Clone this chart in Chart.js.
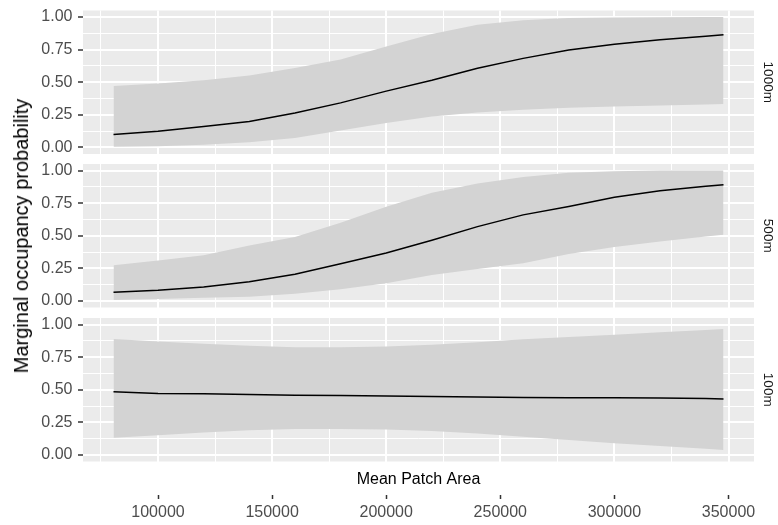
<!DOCTYPE html>
<html>
<head>
<meta charset="utf-8">
<script src="https://cdn.jsdelivr.net/npm/chart.js@4.4.0/dist/chart.umd.min.js"></script>
<style>
  html, body { margin: 0; padding: 0; background: #ffffff; width: 778px; height: 525px; overflow: hidden; position: relative; }
  canvas { position: absolute; left: 0; top: -30px; }
  #ytitle {
    position: absolute; left: 20.7px; top: 236px;
    transform: translate(-50%, -50%) rotate(-90deg);
    font-family: 'Liberation Sans', Arial, sans-serif; font-size: 20px; color: #000000;
    white-space: nowrap; line-height: 1;
  }
</style>
</head>
<body>
<canvas id="facet1000" width="778" height="585"></canvas>
<canvas id="facet500" width="778" height="585"></canvas>
<canvas id="facet100" width="778" height="585"></canvas>
<div id="ytitle">Marginal occupancy probability</div>
<script>
// Mean patch area at which the fitted curves are evaluated
const patchArea = [80500, 100000, 120000, 140000, 160000, 180000, 200000, 220000, 240000, 260000, 280000, 300000, 320000, 340000, 347800];

// 1000m buffer: fitted marginal occupancy and its interval
const fit1000   = [0.100, 0.125, 0.160, 0.200, 0.265, 0.342, 0.432, 0.515, 0.608, 0.683, 0.748, 0.792, 0.826, 0.853, 0.864];
const lower1000 = [0.005, 0.010, 0.020, 0.040, 0.072, 0.130, 0.188, 0.238, 0.268, 0.290, 0.305, 0.315, 0.322, 0.330, 0.333];
const upper1000 = [0.472, 0.490, 0.515, 0.552, 0.610, 0.675, 0.775, 0.870, 0.940, 0.975, 0.992, 0.997, 0.999, 1.000, 1.000];

// 500m buffer
const fit500   = [0.066, 0.082, 0.108, 0.148, 0.205, 0.285, 0.368, 0.465, 0.570, 0.660, 0.725, 0.795, 0.845, 0.880, 0.890];
const lower500 = [0.008, 0.015, 0.025, 0.033, 0.055, 0.090, 0.135, 0.200, 0.245, 0.290, 0.360, 0.414, 0.455, 0.495, 0.508];
const upper500 = [0.274, 0.310, 0.350, 0.425, 0.490, 0.600, 0.722, 0.830, 0.900, 0.950, 0.982, 0.995, 1.000, 1.000, 1.000];

// 100m buffer
const fit100   = [0.484, 0.471, 0.470, 0.463, 0.458, 0.455, 0.452, 0.449, 0.445, 0.440, 0.438, 0.438, 0.436, 0.432, 0.430];
const lower100 = [0.133, 0.152, 0.172, 0.190, 0.199, 0.200, 0.195, 0.183, 0.165, 0.140, 0.115, 0.090, 0.068, 0.047, 0.038];
const upper100 = [0.889, 0.870, 0.853, 0.837, 0.826, 0.825, 0.832, 0.845, 0.865, 0.888, 0.905, 0.922, 0.940, 0.958, 0.965];

// Axis breaks (major and minor grid)
const yBreaks = [0, 0.125, 0.25, 0.375, 0.5, 0.625, 0.75, 0.875, 1];
const xBreaks = [75000, 100000, 125000, 150000, 175000, 200000, 225000, 250000, 275000, 300000, 325000, 350000];

const facetNames = ['1000m', '500m', '100m'];
const xTitle = 'Mean Patch Area';

const FONT = "'Liberation Sans', Arial, sans-serif";
Chart.defaults.font.family = FONT;

// 5% expansion of the x range on both sides
const xSpan = patchArea[patchArea.length - 1] - patchArea[0];
const X_MIN = patchArea[0] - 0.05 * xSpan;
const X_MAX = patchArea[patchArea.length - 1] + 0.05 * xSpan;

const isMajorX = v => v % 50000 === 0;
const isMajorY = v => Math.abs(v * 4 - Math.round(v * 4)) < 1e-9;

const panelBackground = {
  id: 'panelBackground',
  beforeDraw(chart) {
    const { ctx, chartArea: a } = chart;
    ctx.save();
    ctx.fillStyle = '#EBEBEB';
    ctx.fillRect(a.left, a.top, a.right - a.left, a.bottom - a.top);
    ctx.restore();
  }
};

const toPoints = ys => patchArea.map((x, i) => ({ x: x, y: ys[i] }));

function makeFacet(canvasId, name, fit, lower, upper, panelTop, panelBottom, withXAxis) {
  const canvasTop = -30, canvasBottom = 555;
  const xAxisH = withXAxis ? 33 : 0;
  const labelAxisH = withXAxis ? 30 : 0;

  const scales = {
    x: {
      type: 'linear', axis: 'x', position: 'bottom', weight: 0,
      min: X_MIN, max: X_MAX,
      afterBuildTicks: s => { s.ticks = xBreaks.map(v => ({ value: v })); },
      afterFit: s => { s.height = xAxisH; },
      border: { display: false },
      grid: {
        color: '#FFFFFF',
        lineWidth: c => (c.tick && isMajorX(c.tick.value)) ? 2 : 1,
        drawTicks: false
      },
      ticks: { display: false },
      title: withXAxis
        ? { display: true, text: xTitle, color: '#000000', font: { family: FONT, size: 16 }, padding: { top: 0, bottom: 5 } }
        : { display: false }
    },
    y: {
      type: 'linear', axis: 'y', position: 'left',
      min: -0.05, max: 1.05,
      afterBuildTicks: s => { s.ticks = yBreaks.map(v => ({ value: v })); },
      afterFit: s => { s.width = 83; },
      border: { display: false },
      grid: {
        color: '#FFFFFF',
        lineWidth: c => (c.tick && isMajorY(c.tick.value)) ? 2 : 1,
        drawTicks: true, tickLength: 5, tickWidth: 1.5,
        tickColor: c => (c.tick && isMajorY(c.tick.value)) ? '#333333' : 'rgba(0,0,0,0)'
      },
      ticks: {
        autoSkip: false, padding: 5.5, color: '#4D4D4D', font: { family: FONT, size: 16 },
        callback: v => isMajorY(v) ? v.toFixed(2) : ''
      }
    },
    strip: {
      type: 'linear', axis: 'y', position: 'right',
      afterFit: s => { s.width = 24; },
      border: { display: false },
      grid: { display: false },
      ticks: { display: false },
      title: { display: true, text: name, color: '#1A1A1A', font: { family: FONT, size: 13.5 }, padding: { top: 2.5, bottom: 0 } }
    }
  };

  if (withXAxis) {
    scales.xLabels = {
      type: 'linear', axis: 'x', position: 'bottom', weight: 1,
      min: X_MIN, max: X_MAX,
      afterBuildTicks: s => { s.ticks = xBreaks.map(v => ({ value: v })); },
      afterFit: s => { s.height = labelAxisH; },
      border: { display: false },
      grid: {
        drawOnChartArea: false, drawTicks: true, tickLength: 4.5, tickWidth: 1.5,
        tickColor: c => (c.tick && isMajorX(c.tick.value)) ? '#333333' : 'rgba(0,0,0,0)'
      },
      ticks: {
        autoSkip: false, maxRotation: 0, padding: 4.4, color: '#4D4D4D', font: { family: FONT, size: 16 },
        callback: v => isMajorX(v) ? String(v) : ''
      }
    };
  }

  // The fitted curve comes first so it is drawn above the interval band
  return new Chart(document.getElementById(canvasId), {
    type: 'line',
    data: {
      datasets: [
        {
          label: 'fit', data: toPoints(fit), xAxisID: 'x', yAxisID: 'y',
          borderColor: '#000000', borderWidth: 1.5, pointRadius: 0, fill: false, tension: 0
        },
        {
          label: 'lower', data: toPoints(lower), xAxisID: 'x', yAxisID: 'y',
          borderColor: 'rgba(0,0,0,0)', borderWidth: 0, pointRadius: 0, fill: false
        },
        {
          label: 'upper', data: toPoints(upper), xAxisID: 'x', yAxisID: 'y',
          borderColor: 'rgba(0,0,0,0)', borderWidth: 0, pointRadius: 0,
          fill: '-1', backgroundColor: '#D3D3D3'
        }
      ]
    },
    options: {
      responsive: false,
      animation: false,
      devicePixelRatio: 1,
      events: [],
      layout: {
        padding: {
          left: 0, right: 0,
          top: panelTop - canvasTop,
          bottom: canvasBottom - panelBottom - xAxisH - labelAxisH
        }
      },
      plugins: { legend: { display: false }, tooltip: { enabled: false } },
      scales: scales
    },
    plugins: [panelBackground]
  });
}

makeFacet('facet1000', facetNames[0], fit1000, lower1000, upper1000, 10.5, 154, false);
makeFacet('facet500',  facetNames[1], fit500,  lower500,  upper500,  164, 307.5, false);
makeFacet('facet100',  facetNames[2], fit100,  lower100,  upper100,  318, 461.5, true);
</script>
</body>
</html>
